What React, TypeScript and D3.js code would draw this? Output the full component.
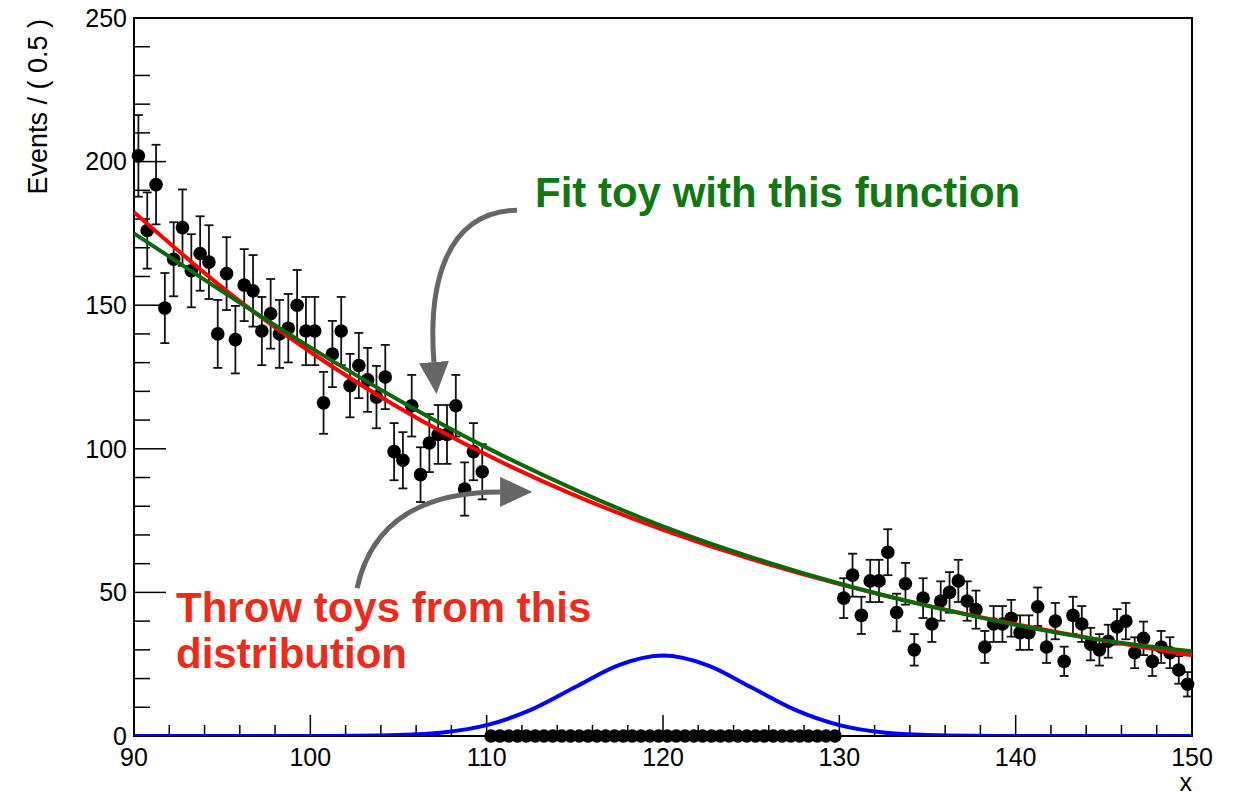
import React from 'react';
import * as d3 from 'd3';

// ---- Data ----
// Bin width 0.5, bin centres 90.25 ... 149.75
const lowSidebandStart = 90.25;
const lowSidebandCounts = [
  202, 176, 192, 149, 166, 177, 162, 168, 165, 140,
  161, 138, 157, 155, 141, 147, 140, 142, 150, 141,
  141, 116, 133, 141, 122, 129, 124, 118, 125, 99,
  96, 115, 91, 102, 105, 105, 115, 86, 99, 92,
];
const signalRegionStart = 110.25;
const signalRegionCounts = [
  0, 0, 0, 0, 0, 0, 0, 0, 0, 0,
  0, 0, 0, 0, 0, 0, 0, 0, 0, 0,
  0, 0, 0, 0, 0, 0, 0, 0, 0, 0,
  0, 0, 0, 0, 0, 0, 0, 0, 0, 0,
];
const highSidebandStart = 130.25;
const highSidebandCounts = [
  48, 56, 42, 54, 54, 64, 43, 53, 30, 48,
  39, 47, 50, 54, 47, 44, 31, 39, 39, 41,
  36, 36, 45, 31, 40, 26, 42, 39, 32, 30,
  33, 38, 40, 29, 34, 26, 31, 29, 23, 18,
];
const binWidth = 0.5;

const modelX = [90, 95, 100, 105, 110, 115, 120, 125, 130, 135, 140, 145, 150];
const trueModel = [182.4, 156.2, 133.7, 114.4, 97.9, 83.8, 71.8, 61.6, 52.9, 45.4, 38.9, 33.2, 28.1];
const fitModel = [175, 154.8, 135.3, 117, 100.4, 85.8, 73.0, 62.3, 53.1, 45.3, 38.7, 33.3, 29.5];

const signalX = [90, 92.5, 95, 97.5, 100, 102.5, 105, 107.5, 110, 112.5, 115, 117.5, 120,
  122.5, 125, 127.5, 130, 132.5, 135, 137.5, 140, 142.5, 145, 147.5, 150];
const signalModel = [0, 0, 0, 0, 0.01, 0.06, 0.31, 1.23, 3.79, 9.09, 16.98, 24.71, 28,
  24.71, 16.98, 9.09, 3.79, 1.23, 0.31, 0.06, 0.01, 0, 0, 0, 0];

// Axis
const xDomain = [90, 150];
const yDomain = [0, 250];
const xMajorTicks = [90, 100, 110, 120, 130, 140, 150];
const yMajorTicks = [0, 50, 100, 150, 200, 250];
const xTitle = 'x';
const yTitle = 'Events / ( 0.5 )';

// Annotations (data coordinates)
const fitLabel = 'Fit toy with this function';
const throwLabel1 = 'Throw toys from this';
const throwLabel2 = 'distribution';
const arrowFit = [[111.72, 183.1], [107.64, 182.5], [106.67, 157.0], [107.01, 130.2]];
const arrowThrow = [[102.65, 51.5], [103.5, 75.2], [106.5, 85.0], [110.76, 85.0]];

const W = 1236;
const H = 796;
const L = 134, R = 1192, T = 18, B = 736;
const FONT = '"Liberation Sans", Arial, Helvetica, sans-serif';

export default function App() {
  const x = d3.scaleLinear().domain(xDomain).range([L, R]);
  const y = d3.scaleLinear().domain(yDomain).range([B, T]);

  const points: { c: number; n: number }[] = [];
  const addSet = (start: number, counts: number[]) =>
    counts.forEach((n, i) => points.push({ c: start + i * binWidth, n }));
  addSet(lowSidebandStart, lowSidebandCounts);
  addSet(signalRegionStart, signalRegionCounts);
  addSet(highSidebandStart, highSidebandCounts);

  const xMinor = d3.range(xDomain[0], xDomain[1] + 0.001, 2).filter((v) => !xMajorTicks.includes(v));
  const yMinor = d3.range(yDomain[0], yDomain[1] + 0.001, 10).filter((v) => !yMajorTicks.includes(v));

  const smooth = d3.line<number>().x((_, i) => x(modelX[i])).y((d) => y(d)).curve(d3.curveNatural);
  const sig = d3.line<number>().x((_, i) => x(signalX[i])).y((d) => y(d)).curve(d3.curveMonotoneX);

  const bez = (p: number[][]) =>
    `M${x(p[0][0])},${y(p[0][1])} C${x(p[1][0])},${y(p[1][1])} ${x(p[2][0])},${y(p[2][1])} ${x(p[3][0])},${y(p[3][1])}`;

  const majorLenX = 21, minorLenX = 11;
  const majorLenY = 32, minorLenY = 16;

  return (
    <svg width={W} height={H} style={{ position: 'absolute', left: 0, top: 0, background: '#fff' }}
      fontFamily={FONT}>
      <defs>
        <clipPath id="plotClip">
          <rect x={L} y={T} width={R - L} height={B - T} />
        </clipPath>
        <marker id="ahead" markerUnits="userSpaceOnUse" markerWidth={32} markerHeight={30}
          viewBox="0 0 32 30" refX={0} refY={15} orient="auto">
          <path d="M0,0 L32,15 L0,30 z" fill="#666666" />
        </marker>
      </defs>
      <rect x={0} y={0} width={W} height={H} fill="#fff" />

      {/* ticks */}
      <g stroke="#000" strokeWidth={1.5}>
        {xMajorTicks.map((v) => (
          <line key={'xM' + v} x1={x(v)} x2={x(v)} y1={B} y2={B - majorLenX} />
        ))}
        {xMinor.map((v) => (
          <line key={'xm' + v} x1={x(v)} x2={x(v)} y1={B} y2={B - minorLenX} />
        ))}
        {yMajorTicks.map((v) => (
          <line key={'yM' + v} x1={L} x2={L + majorLenY} y1={y(v)} y2={y(v)} />
        ))}
        {yMinor.map((v) => (
          <line key={'ym' + v} x1={L} x2={L + minorLenY} y1={y(v)} y2={y(v)} />
        ))}
      </g>

      {/* frame */}
      <rect x={L} y={T} width={R - L} height={B - T} fill="none" stroke="#000" strokeWidth={2} />

      {/* tick labels */}
      <g fontSize={25} fill="#000">
        {xMajorTicks.map((v) => (
          <text key={'xl' + v} x={x(v)} y={766} textAnchor="middle">{v}</text>
        ))}
        {yMajorTicks.map((v) => (
          <text key={'yl' + v} x={L - 7} y={y(v)} dy="0.35em" textAnchor="end">{v}</text>
        ))}
      </g>

      {/* axis titles */}
      <text x={R} y={791} textAnchor="end" fontSize={25}>{xTitle}</text>
      <text transform={`translate(47,${T + 1}) rotate(-90)`} textAnchor="end" fontSize={27}>{yTitle}</text>

      {/* data points */}
      <g stroke="#111" strokeWidth={1.8}>
        {points.filter((p) => p.n > 0).map((p, i) => {
          const e = Math.sqrt(p.n);
          const cx = x(p.c);
          return (
            <g key={'e' + i}>
              <line x1={cx} x2={cx} y1={y(p.n + e)} y2={y(p.n - e)} />
              <line x1={cx - 4.5} x2={cx + 4.5} y1={y(p.n + e)} y2={y(p.n + e)} />
              <line x1={cx - 4.5} x2={cx + 4.5} y1={y(p.n - e)} y2={y(p.n - e)} />
            </g>
          );
        })}
      </g>
      {points.map((p, i) => (
        <circle key={'p' + i} cx={x(p.c)} cy={y(p.n)} r={6.8} fill="#000" />
      ))}

      {/* model curves */}
      <g clipPath="url(#plotClip)">
        <path d={smooth(trueModel) || ''} fill="none" stroke="#ff0000" strokeWidth={4} />
        <path d={smooth(fitModel) || ''} fill="none" stroke="#0b680b" strokeWidth={4} />
        <path d={sig(signalModel) || ''} fill="none" stroke="#0000ff" strokeWidth={4} />
      </g>

      {/* arrows */}
      <path d={bez(arrowFit)} fill="none" stroke="#666666" strokeWidth={5} markerEnd="url(#ahead)" />
      <path d={bez(arrowThrow)} fill="none" stroke="#666666" strokeWidth={5} markerEnd="url(#ahead)" />

      {/* annotation texts */}
      <text x={535} y={207} fontSize={42} fontWeight="bold" fill="#117711">{fitLabel}</text>
      <text x={176} y={622} fontSize={42} fontWeight="bold" fill="#ee2a1a">{throwLabel1}</text>
      <text x={176} y={668} fontSize={42} fontWeight="bold" fill="#ee2a1a">{throwLabel2}</text>
    </svg>
  );
}
